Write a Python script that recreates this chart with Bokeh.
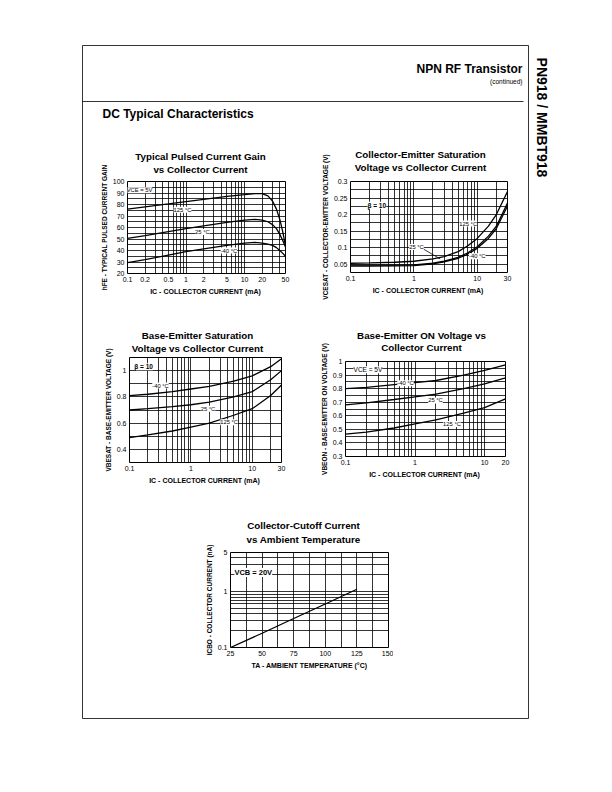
import math
from bokeh.plotting import figure
from bokeh.models import Range1d, FixedTicker, CustomJSTickFormatter, Label, Arrow, Column
from bokeh.embed import file_html
from bokeh.resources import INLINE
from bokeh.core.properties import value

FONT = "Liberation Sans"

# ---------------- data ----------------
# Chart 1: hFE vs IC
hfe_ic = [0.1, 0.2, 0.5, 1, 2, 5, 10, 15, 20, 25, 30, 35, 40, 45, 50]
hfe_125 = [76, 78, 80.5, 82.5, 84.5, 87, 88.5, 89.5, 89.5, 87.5, 83, 76, 67, 56, 44]
hfe_25 = [50.5, 53, 56.5, 59, 61.5, 64.5, 66.5, 67, 66.5, 65, 62.5, 59, 54, 48.5, 43]
hfe_m40 = [29.5, 32, 36, 39, 41.5, 44.5, 46.5, 47, 46.5, 45.5, 44.5, 42.5, 40, 37.5, 35]
c1_xticks = [0.1, 0.2, 0.5, 1, 2, 5, 10, 20, 50]
c1_xminor = [0.3, 0.4, 0.6, 0.7, 0.8, 0.9, 3, 4, 6, 7, 8, 9, 30, 40]
c1_yticks = [20, 30, 40, 50, 60, 70, 80, 90, 100]
c1_yminor = [25, 35, 45, 55, 65, 75, 85, 95]

# Chart 2: VCEsat vs IC
vce_ic = [0.1, 0.2, 0.5, 1, 2, 3, 5, 7, 10, 15, 20, 30]
vce_125 = [0.053, 0.054, 0.056, 0.059, 0.066, 0.073, 0.088, 0.105, 0.128, 0.165, 0.2, 0.27]
vce_25 = [0.047, 0.047, 0.047, 0.048, 0.053, 0.059, 0.071, 0.084, 0.103, 0.135, 0.165, 0.235]
vce_m40 = [0.044, 0.044, 0.045, 0.046, 0.051, 0.057, 0.068, 0.08, 0.098, 0.128, 0.158, 0.226]
c2_xticks = [0.1, 1, 10, 30]
c2_xminor = [0.2, 0.3, 0.4, 0.5, 0.6, 0.7, 0.8, 0.9, 2, 3, 4, 5, 6, 7, 8, 9, 20]
c2_yticks = [0.05, 0.1, 0.15, 0.2, 0.25, 0.3]
c2_yminor = [0.025, 0.075, 0.125, 0.175, 0.225, 0.275]

# Chart 3: VBEsat vs IC
vbs_ic = [0.1, 0.2, 0.5, 1, 2, 5, 10, 20, 30]
vbs_m40 = [0.81, 0.82, 0.84, 0.86, 0.88, 0.92, 0.96, 1.03, 1.09]
vbs_25 = [0.70, 0.71, 0.725, 0.74, 0.76, 0.80, 0.84, 0.93, 1.0]
vbs_125 = [0.49, 0.51, 0.54, 0.57, 0.60, 0.66, 0.71, 0.81, 0.89]
c3_xticks = [0.1, 1, 10, 30]
c3_xminor = [0.2, 0.3, 0.4, 0.5, 0.6, 0.7, 0.8, 0.9, 2, 3, 4, 5, 6, 7, 8, 9, 20]
c3_yticks = [0.4, 0.6, 0.8, 1]
c3_yminor = [0.3, 0.5, 0.7, 0.9, 1.1]

# Chart 4: VBEon vs IC
vbo_ic = [0.1, 0.2, 0.5, 1, 2, 5, 10, 20]
vbo_m40 = [0.80, 0.81, 0.83, 0.845, 0.86, 0.90, 0.935, 0.975]
vbo_25 = [0.68, 0.695, 0.72, 0.74, 0.76, 0.80, 0.835, 0.88]
vbo_125 = [0.465, 0.48, 0.51, 0.54, 0.57, 0.62, 0.66, 0.725]
c4_xticks = [0.1, 1, 10, 20]
c4_xminor = [0.2, 0.3, 0.4, 0.5, 0.6, 0.7, 0.8, 0.9, 2, 3, 4, 5, 6, 7, 8, 9]
c4_yticks = [0.3, 0.4, 0.5, 0.6, 0.7, 0.8, 0.9, 1]
c4_yminor = [0.35, 0.45, 0.55, 0.65, 0.75, 0.85, 0.95]

# Chart 5: ICBO vs TA
icbo_ta = [25, 50, 75, 100, 125]
icbo_na = [0.1, 0.18, 0.33, 0.6, 1.1]
c5_xticks = [25, 50, 75, 100, 125, 150]
c5_xminor = [37.5, 62.5, 87.5, 112.5, 137.5]
c5_yticks = [0.1, 1, 5]
c5_yminor = [0.2, 0.3, 0.4, 0.5, 0.6, 0.7, 0.8, 0.9, 2, 3, 4]

# ---------------- layout constants ----------------
ML, MR, MT, MB = 45, 5, 40, 50
PAGE_W, PAGE_H = 612, 792


def chart(xr, yr, x_type, y_type, xmaj, xmin, ymaj, ymin, xlabel, ylabel, fw, fh, ystand=2):
    p = figure(x_axis_type=x_type, y_axis_type=y_type,
               x_range=Range1d(*xr), y_range=Range1d(*yr),
               frame_width=fw, frame_height=fh,
               min_border_left=ML, min_border_right=MR,
               min_border_top=MT, min_border_bottom=MB,
               toolbar_location=None, output_backend="svg")
    p.border_fill_color = None
    p.background_fill_color = "white"
    p.outline_line_color = "black"
    p.outline_line_width = 1
    xt = FixedTicker(ticks=xmaj, minor_ticks=xmin)
    yt = FixedTicker(ticks=ymaj, minor_ticks=ymin)
    p.xaxis.ticker = xt
    p.yaxis.ticker = yt
    p.xgrid.ticker = xt
    p.ygrid.ticker = yt
    for g in (p.xgrid, p.ygrid):
        g.grid_line_color = "black"
        g.grid_line_width = 0.8
        g.minor_grid_line_color = "black"
        g.minor_grid_line_width = 0.8
    p.xaxis.formatter = CustomJSTickFormatter(code="return String(tick);")
    p.yaxis.formatter = CustomJSTickFormatter(code="return String(tick);")
    for ax in (p.xaxis[0], p.yaxis[0]):
        ax.axis_line_color = None
        ax.major_tick_line_color = None
        ax.minor_tick_line_color = None
        ax.major_tick_out = 0
        ax.major_tick_in = 0
        ax.minor_tick_out = 0
        ax.minor_tick_in = 0
        ax.major_label_text_font = FONT
        ax.major_label_text_font_size = "7px"
        ax.major_label_text_color = "black"
        ax.major_label_standoff = 3
        ax.axis_label_text_font = FONT
        ax.axis_label_text_font_style = "bold"
        ax.axis_label_text_color = "black"
    p.xaxis.axis_label_text_font_size = "7px"
    p.yaxis.axis_label_text_font_size = "6.5px"
    p.xaxis.axis_label_standoff = 3
    p.yaxis.axis_label_standoff = ystand
    p.xaxis.axis_label = xlabel
    p.yaxis.axis_label = ylabel
    return p


def tag(p, x, y, text, size="5.8px", bold=False):
    p.add_layout(Label(x=x, y=y, text=text, text_font=FONT, text_font_size=size,
                       text_font_style="bold" if bold else "normal", text_color="black",
                       text_align="center", text_baseline="middle",
                       background_fill_color="white"))


LW = 1.3

# Chart 1
c1 = chart((0.1, 50), (20, 100), "log", "linear", c1_xticks, c1_xminor, c1_yticks, c1_yminor,
           "IC - COLLECTOR CURRENT  (mA)", "hFE - TYPICAL PULSED CURRENT GAIN", 158, 92)
for ys in (hfe_125, hfe_25, hfe_m40):
    c1.line(hfe_ic, ys, line_color="black", line_width=LW)
tag(c1, 0.16, 92.5, "VCE = 5V")
tag(c1, 0.87, 75.5, "125 °C")
tag(c1, 1.9, 56, "25 °C")
tag(c1, 5.4, 40, "-40 °C")

# Chart 2
c2 = chart((0.1, 30), (0.025, 0.3), "log", "linear", c2_xticks, c2_xminor, c2_yticks, c2_yminor,
           "IC - COLLECTOR CURRENT  (mA)", "VCESAT - COLLECTOR-EMITTER VOLTAGE (V)", 157, 91)
for ys in (vce_125, vce_25, vce_m40):
    c2.line(vce_ic, ys, line_color="black", line_width=LW)
c2.add_layout(Arrow(end=None, x_start=1.3, y_start=0.1, x_end=2.6, y_end=0.066,
                    line_color="black", line_width=0.8))
tag(c2, 0.26, 0.228, "β = 10", size="6.5px", bold=True)
tag(c2, 7.2, 0.173, "125 °C")
tag(c2, 1.1, 0.102, "25 °C")
tag(c2, 10, 0.074, "-40 °C")

# Chart 3
c3 = chart((0.1, 30), (0.3, 1.1), "log", "linear", c3_xticks, c3_xminor, c3_yticks, c3_yminor,
           "IC - COLLECTOR CURRENT  (mA)", "VBESAT - BASE-EMITTER VOLTAGE (V)", 152, 105)
for ys in (vbs_m40, vbs_25, vbs_125):
    c3.line(vbs_ic, ys, line_color="black", line_width=LW)
tag(c3, 0.17, 1.03, "β = 10", size="6.5px", bold=True)
tag(c3, 0.32, 0.886, "-40 °C")
tag(c3, 1.9, 0.71, "25 °C")
tag(c3, 4.2, 0.607, "125 °C")

# Chart 4
c4 = chart((0.1, 20), (0.3, 1.0), "log", "linear", c4_xticks, c4_xminor, c4_yticks, c4_yminor,
           "IC - COLLECTOR CURRENT  (mA)", "VBEON - BASE-EMITTER ON VOLTAGE (V)", 160, 95)
for ys in (vbo_m40, vbo_25, vbo_125):
    c4.line(vbo_ic, ys, line_color="black", line_width=LW)
tag(c4, 0.21, 0.94, "VCE = 5V", size="6.5px")
tag(c4, 0.73, 0.84, "-40 °C")
tag(c4, 1.97, 0.713, "25 °C")
tag(c4, 3.4, 0.54, "125 °C")

# Chart 5
c5 = chart((25, 150), (0.1, 5), "linear", "log", c5_xticks, c5_xminor, c5_yticks, c5_yminor,
           "TA - AMBIENT TEMPERATURE (°C)", "ICBO - COLLECTOR CURRENT (nA)", 158, 95)
c5.line(icbo_ta, icbo_na, line_color="black", line_width=LW)
tag(c5, 43, 2.2, "VCB = 20V", size="7.5px", bold=True)

# ---------------- page ----------------
# The column layout aligns the page's side borders with the charts' (ML, MR),
# so the page frame spans screen x = ML .. PAGE_W - MR.
page = figure(width=PAGE_W, height=PAGE_H, x_range=Range1d(ML, PAGE_W - MR), y_range=Range1d(PAGE_H, 0),
              min_border=0, toolbar_location=None, output_backend="svg",
              x_axis_location=None, y_axis_location=None)
page.grid.visible = False
page.outline_line_color = None
page.background_fill_color = "white"
page.border_fill_color = "white"

page.quad(left=[82], right=[528], top=[45], bottom=[718], fill_color=None,
          line_color="black", line_width=0.8)
page.segment(x0=[82], y0=[101], x1=[523], y1=[101], line_color="black", line_width=0.8)


def ptext(x, y, t, size, bold=True, align="center", angle=0.0):
    page.text(x=[x], y=[y], text=[t], text_font=value(FONT), text_font_size=size,
              text_font_style="bold" if bold else "normal", text_align=align,
              text_baseline="middle", text_color="black", angle=angle)


ptext(522, 68, "NPN RF Transistor", "12px", align="right")
ptext(522, 81, "(continued)", "6.5px", bold=False, align="right")
ptext(102, 113, "DC Typical Characteristics", "12px", align="left")
ptext(541, 117, "PN918 / MMBT918", "14px", angle=-math.pi / 2)

titles = [
    (200, 156, "Typical Pulsed Current Gain"), (200, 169, "vs Collector Current"),
    (420, 154, "Collector-Emitter Saturation"), (420, 167, "Voltage vs Collector Current"),
    (197, 335, "Base-Emitter Saturation"), (197, 348, "Voltage vs Collector Current"),
    (421, 335, "Base-Emitter ON Voltage vs"), (421, 347, "Collector Current"),
    (303, 525, "Collector-Cutoff Current"), (303, 539, "vs Ambient Temperature"),
]
for x, y, t in titles:
    ptext(x, y, t, "9.8px")

frames = [(c1, 127, 181), (c2, 350, 181), (c3, 129, 357), (c4, 345, 361), (c5, 230, 552)]
for fig, fl, ft in frames:
    fig.styles = {"position": "absolute", "left": f"{fl - ML}px", "top": f"{ft - MT}px"}

root = Column(children=[page] + [f[0] for f in frames], styles={"position": "relative"})

open("out.html", "w").write(file_html(root, INLINE))
